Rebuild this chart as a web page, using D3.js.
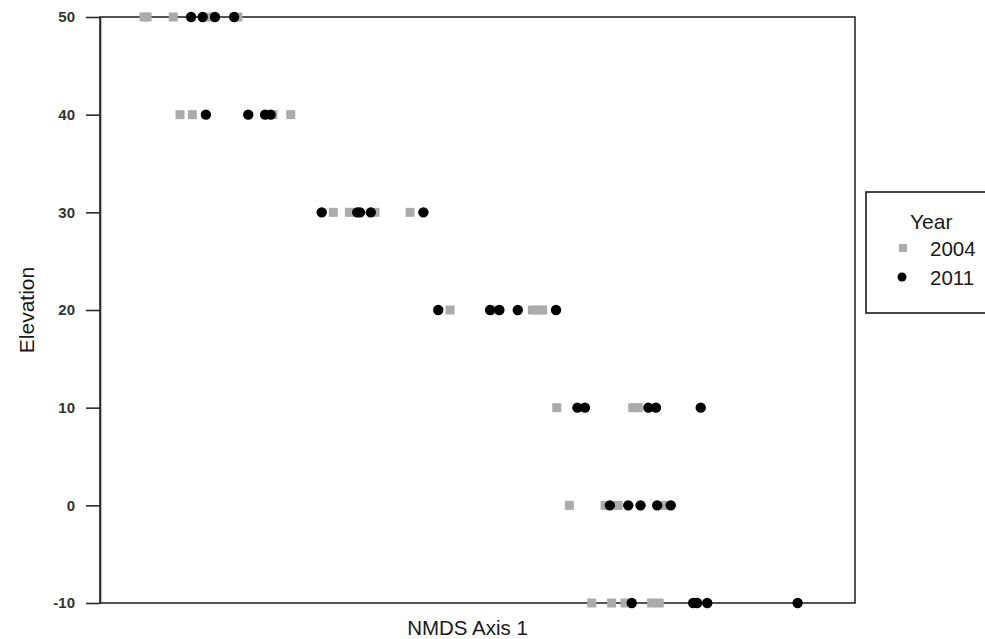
<!DOCTYPE html>
<html>
<head>
<meta charset="utf-8">
<script src="https://cdn.jsdelivr.net/npm/d3@7"></script>
<style>
  html, body { margin: 0; padding: 0; background: #fff; }
  svg { display: block; }
</style>
</head>
<body>
<script>
// NMDS axis-1 scores by elevation band, two survey years
const elevTicks = [-10, 0, 10, 20, 30, 40, 50];

const elev2004 = [50, 50, 50, 50, 50,
                  40, 40, 40, 40,
                  30, 30, 30, 30,
                  20, 20, 20, 20, 20,
                  10, 10, 10,
                  0, 0, 0, 0,
                  -10, -10, -10, -10, -10];
const nmds2004 = [-1.325, -1.313, -1.209, -1.063, -0.952,
                  -1.182, -1.133, -0.813, -0.742,
                  -0.573, -0.509, -0.407, -0.268,
                  -0.109, 0.070, 0.218, 0.242, 0.259,
                  0.315, 0.617, 0.639,
                  0.365, 0.507, 0.559, 0.745,
                  0.454, 0.533, 0.586, 0.692, 0.722];

const elev2011 = [50, 50, 50, 50,
                  40, 40, 40, 40,
                  30, 30, 30, 30, 30,
                  20, 20, 20, 20, 20,
                  10, 10, 10, 10, 10,
                  0, 0, 0, 0, 0,
                  -10, -10, -10, -10, -10];
const nmds2011 = [-1.138, -1.092, -1.043, -0.967,
                  -1.079, -0.911, -0.844, -0.822,
                  -0.619, -0.478, -0.467, -0.424, -0.215,
                  -0.156, 0.050, 0.087, 0.160, 0.312,
                  0.397, 0.427, 0.679, 0.709, 0.887,
                  0.526, 0.599, 0.648, 0.714, 0.768,
                  0.613, 0.857, 0.873, 0.913, 1.272];

const years = ["2004", "2011"];

const W = 985, H = 639;
const plot = { left: 100, right: 855, top: 17, bottom: 603 };
const grey = "#ababab";
const ink = "#1a1a1a";
const font = "'Liberation Sans', Arial, sans-serif";

const svg = d3.select("body").append("svg")
  .attr("width", W).attr("height", H);

const x = d3.scaleLinear().domain([-1.5, 1.5]).range([plot.left, plot.right]);
const y = d3.scaleLinear().domain([-10, 50]).range([plot.bottom, plot.top]);

// plot frame
svg.append("rect")
  .attr("x", plot.left).attr("y", plot.top)
  .attr("width", plot.right - plot.left)
  .attr("height", plot.bottom - plot.top)
  .attr("fill", "none").attr("stroke", "#2a2a2a").attr("stroke-width", 1.6);

// y axis (plain hyphen for negatives)
const yAxis = svg.append("g")
  .attr("transform", `translate(${plot.left},0)`)
  .call(d3.axisLeft(y).tickValues(elevTicks).tickFormat(d => String(d))
    .tickSize(14).tickPadding(11).tickSizeOuter(0));
yAxis.select(".domain").attr("stroke", "#2a2a2a").attr("stroke-width", 1.6);
yAxis.selectAll(".tick line").attr("stroke", "#2a2a2a").attr("stroke-width", 1.6);
yAxis.selectAll(".tick text")
  .attr("fill", "#333")
  .style("font-family", font)
  .style("font-size", "15px")
  .style("font-weight", "bold");

// axis titles
svg.append("text")
  .attr("x", (plot.left + plot.right) / 2 - 10).attr("y", 635)
  .attr("text-anchor", "middle")
  .attr("fill", ink)
  .style("font-family", font)
  .style("font-size", "20.5px")
  .text("NMDS Axis 1");

svg.append("text")
  .attr("transform", "translate(34,310) rotate(-90)")
  .attr("text-anchor", "middle")
  .attr("fill", ink)
  .style("font-family", font)
  .style("font-size", "21px")
  .text("Elevation");

// 2004: grey squares
const sq = 9;
svg.append("g").selectAll("rect")
  .data(d3.range(nmds2004.length))
  .join("rect")
  .attr("x", i => x(nmds2004[i]) - sq / 2)
  .attr("y", i => y(elev2004[i]) - sq / 2)
  .attr("width", sq).attr("height", sq)
  .attr("fill", grey);

// 2011: black circles
svg.append("g").selectAll("circle")
  .data(d3.range(nmds2011.length))
  .join("circle")
  .attr("cx", i => x(nmds2011[i]))
  .attr("cy", i => y(elev2011[i]))
  .attr("r", 5.2)
  .attr("fill", "#000");

// legend
const lg = svg.append("g");
lg.append("rect")
  .attr("x", 866).attr("y", 192)
  .attr("width", 130).attr("height", 121)
  .attr("fill", "#fff").attr("stroke", "#1a1a1a").attr("stroke-width", 1.6);
lg.append("text")
  .attr("x", 910).attr("y", 229)
  .attr("fill", ink)
  .style("font-family", font)
  .style("font-size", "21px")
  .text("Year");
years.forEach((yr, i) => {
  const cy = 248 + i * 29;
  if (i === 0) {
    lg.append("rect")
      .attr("x", 903 - 4).attr("y", cy - 4)
      .attr("width", 8).attr("height", 8)
      .attr("fill", grey);
  } else {
    lg.append("circle")
      .attr("cx", 902).attr("cy", cy).attr("r", 4.5).attr("fill", "#000");
  }
  lg.append("text")
    .attr("x", 930).attr("y", cy + 8)
    .attr("fill", ink)
    .style("font-family", font)
    .style("font-size", "20.5px")
    .text(yr);
});
</script>
</body>
</html>
